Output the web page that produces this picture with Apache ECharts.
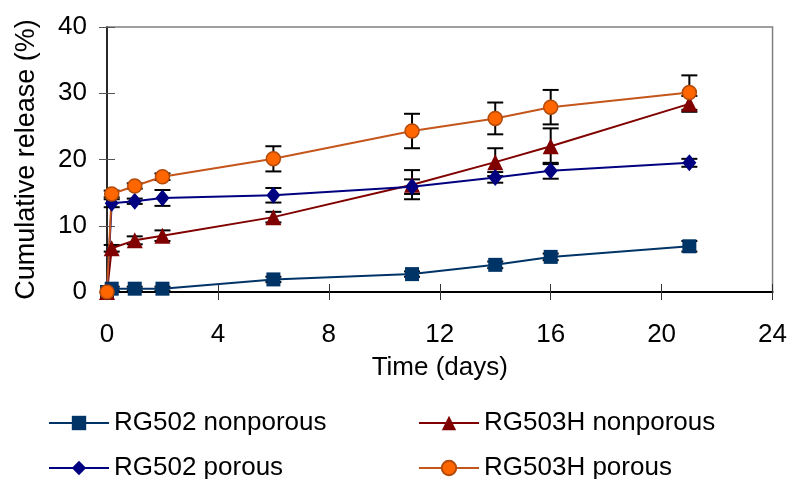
<!DOCTYPE html>
<html>
<head>
<meta charset="utf-8">
<script src="https://cdn.jsdelivr.net/npm/echarts@6/dist/echarts.min.js"></script>
<style>html,body{margin:0;padding:0;background:#fff}#c{width:790px;height:479px}</style>
</head>
<body>
<div id="c"></div>
<script>
const days = [0, 0.17, 1, 2, 6, 11, 14, 16, 21];
const rg502Non = [0, 0.5, 0.5, 0.5, 1.9, 2.7, 4.1, 5.3, 6.9];
const rg502NonErr = [0, 0.3, 0.3, 0.3, 0.4, 0.4, 0.5, 0.5, 0.8];
const rg503HNon = [0, 6.6, 7.8, 8.5, 11.3, 16.2, 19.6, 22.0, 28.4];
const rg503HNonErr = [0, 0.5, 0.6, 0.8, 0.8, 2.2, 2.1, 2.7, 1.2];
const rg502Por = [0, 13.4, 13.7, 14.2, 14.6, 15.9, 17.3, 18.3, 19.5];
const rg502PorErr = [0, 0.6, 0.4, 1.2, 1.1, 1.1, 0.8, 1.2, 0.6];
const rg503HPor = [0, 14.8, 16.0, 17.4, 20.1, 24.3, 26.2, 27.9, 30.1];
const rg503HPorErr = [0, 0.5, 0.4, 0.5, 1.9, 2.6, 2.4, 2.6, 2.6];
const xTicks = [0, 4, 8, 12, 16, 20, 24];
const yTicks = [0, 10, 20, 30, 40];

const FONT = "'Liberation Sans', Arial, sans-serif";
const FS = 26;

const defs = [
  {name: 'RG502 nonporous', vals: rg502Non, err: rg502NonErr, color: '#003366', line: '#003366', symbol: 'rect', size: 14, border: '#003366'},
  {name: 'RG503H nonporous', vals: rg503HNon, err: rg503HNonErr, color: '#800000', line: '#800000', symbol: 'triangle', size: 16, border: '#800000'},
  {name: 'RG502 porous', vals: rg502Por, err: rg502PorErr, color: '#000080', line: '#000080', symbol: 'diamond', size: 16, border: '#000080'},
  {name: 'RG503H porous', vals: rg503HPor, err: rg503HPorErr, color: '#FF6600', line: '#C4561C', symbol: 'circle', size: 14, border: '#B24A0A'}
];

const series = [];
defs.forEach(d => {
  series.push({
    type: 'custom',
    name: d.name + ' err',
    z: 1,
    silent: true,
    clip: false,
    data: days.map((x, i) => [x, d.vals[i] - d.err[i], d.vals[i] + d.err[i], d.err[i]]),
    renderItem: function (params, api) {
      if (api.value(3) <= 0) return null;
      const x = api.value(0);
      const lo = api.coord([x, api.value(1)]);
      const hi = api.coord([x, api.value(2)]);
      const w = 8;
      const st = {stroke: '#000', lineWidth: 2};
      return {type: 'group', children: [
        {type: 'line', shape: {x1: lo[0], y1: lo[1], x2: hi[0], y2: hi[1]}, style: st},
        {type: 'line', shape: {x1: lo[0] - w, y1: lo[1], x2: lo[0] + w, y2: lo[1]}, style: st},
        {type: 'line', shape: {x1: hi[0] - w, y1: hi[1], x2: hi[0] + w, y2: hi[1]}, style: st}
      ]};
    }
  });
});
defs.forEach(d => {
  series.push({
    type: 'line',
    name: d.name,
    z: 3,
    clip: false,
    data: days.map((x, i) => [x, d.vals[i]]),
    symbol: d.symbol,
    symbolSize: d.symbol === 'diamond' ? [14, 17] : d.size,
    showAllSymbol: true,
    lineStyle: {color: d.line, width: 2},
    itemStyle: {color: d.color, borderColor: d.border, borderWidth: d.symbol === 'circle' ? 1.5 : 0, opacity: 1},
    emphasis: {disabled: true},
    animation: false
  });
});

function legend(name, left, top) {
  return {
    data: [name], left: left, top: top, orient: 'horizontal',
    itemWidth: 60, itemHeight: 18, itemGap: 0, padding: 0,
    textStyle: {fontFamily: FONT, fontSize: FS, color: '#000', padding: [0, 0, 0, 0]},
    selectedMode: false
  };
}

const option = {
  backgroundColor: '#fff',
  animation: false,
  grid: {left: 107, right: 17, top: 27, bottom: 187, show: true, borderColor: '#808080', borderWidth: 1.5, backgroundColor: 'transparent'},
  legend: [
    legend(defs[0].name, 48, 410),
    legend(defs[1].name, 418, 410),
    legend(defs[2].name, 48, 455),
    legend(defs[3].name, 418, 455)
  ],
  xAxis: [
    {type: 'value', min: xTicks[0], max: xTicks[xTicks.length - 1], interval: 4,
     name: 'Time (days)', nameLocation: 'middle', nameGap: 63,
     nameTextStyle: {fontFamily: FONT, fontSize: FS, color: '#000'},
     axisLine: {show: true, onZero: false, lineStyle: {color: '#000', width: 2}},
     axisTick: {show: true, inside: false, length: 8, lineStyle: {color: '#333', width: 1}},
     axisLabel: {fontFamily: FONT, fontSize: FS, color: '#000', margin: 30},
     splitLine: {show: false}},
    {type: 'value', min: xTicks[0], max: xTicks[xTicks.length - 1], interval: 4, position: 'bottom',
     axisLine: {show: false}, axisLabel: {show: false},
     axisTick: {show: true, inside: true, length: 8, lineStyle: {color: '#333', width: 1}},
     splitLine: {show: false}}
  ],
  yAxis: [
    {type: 'value', min: yTicks[0], max: yTicks[yTicks.length - 1], interval: 10,
     name: 'Cumulative release (%)', nameLocation: 'middle', nameGap: 67,
     nameTextStyle: {fontFamily: FONT, fontSize: 27, color: '#000'},
     axisLine: {show: true, onZero: false, lineStyle: {color: '#000', width: 1.5}},
     axisTick: {show: true, inside: false, length: 8, lineStyle: {color: '#555', width: 1}},
     axisLabel: {fontFamily: FONT, fontSize: FS, color: '#000', margin: 20},
     splitLine: {show: false}},
    {type: 'value', min: yTicks[0], max: yTicks[yTicks.length - 1], interval: 10, position: 'left',
     axisLine: {show: false}, axisLabel: {show: false},
     axisTick: {show: true, inside: true, length: 8, lineStyle: {color: '#555', width: 1}},
     splitLine: {show: false}}
  ],
  series: series
};

const chart = echarts.init(document.getElementById('c'), null, {renderer: 'canvas'});
chart.setOption(option);
</script>
</body>
</html>
